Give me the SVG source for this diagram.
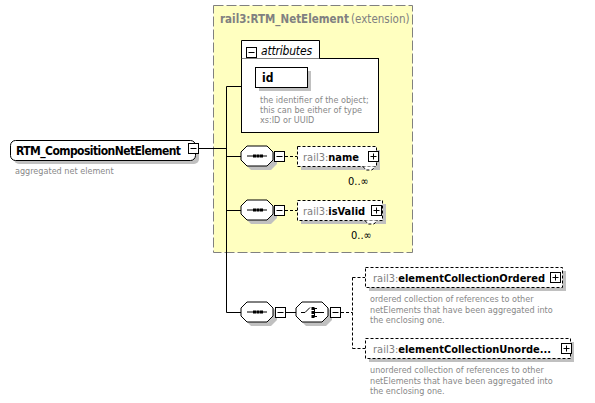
<svg xmlns="http://www.w3.org/2000/svg" width="595" height="403" viewBox="0 0 595 403">
<style>
.t{font-family:"DejaVu Sans Condensed","Liberation Sans",sans-serif}
.sh{fill:#c0c0c0}
.box{fill:#fff;stroke:#000;stroke-width:1}
.dbox{fill:#fff;stroke:#000;stroke-width:1;stroke-dasharray:3,2}
.ln{stroke:#000;stroke-width:1;fill:none}
.dl{stroke:#000;stroke-width:1;fill:none;stroke-dasharray:3,2}
.desc{font-size:9px;fill:#888}
.pre{fill:#808080}
.nm{font-weight:bold;fill:#000}
.occ{font-size:11px;fill:#000}
</style>
<defs>
<g id="seq">
<path d="M6,0 H26 L32,6 V14 L26,20 H6 L0,14 V6 Z" transform="translate(4,4)" class="sh"/>
<path d="M6,0 H26 L32,6 V14 L26,20 H6 L0,14 V6 Z" class="box"/>
<line x1="6" y1="10" x2="26" y2="10" class="ln"/>
<rect x="12" y="8.5" width="3" height="3" fill="#000"/>
<rect x="15.5" y="8.5" width="3" height="3" fill="#000"/>
<rect x="19" y="8.5" width="3" height="3" fill="#000"/>
</g>
<g id="minus">
<rect x="0.5" y="0.5" width="10" height="10" class="box"/>
<line x1="2.5" y1="5.5" x2="8.5" y2="5.5" class="ln"/>
</g>
<g id="plus">
<rect x="0.5" y="0.5" width="10" height="10" class="box"/>
<line x1="2.5" y1="5.5" x2="8.5" y2="5.5" class="ln"/>
<line x1="5.5" y1="2.5" x2="5.5" y2="8.5" class="ln"/>
</g>
</defs>

<g id="extension">
<rect x="213.5" y="5.5" width="199" height="247" fill="#ffffc0" stroke="#808080" stroke-dasharray="10,3"/>
<text x="220" y="23" class="t" font-size="11.5" fill="#808080" font-weight="bold">rail3:RTM_NetElement</text>
<text x="351" y="23" class="t" font-size="11.5" fill="#808080">(extension)</text>
</g>

<g id="connectors">
<line x1="199" y1="148.5" x2="226.5" y2="148.5" class="ln"/>
<line x1="226.5" y1="86.5" x2="226.5" y2="312.5" class="ln"/>
<line x1="226.5" y1="86.5" x2="241" y2="86.5" class="ln"/>
<line x1="226.5" y1="156.5" x2="241" y2="156.5" class="ln"/>
<line x1="226.5" y1="210.5" x2="241" y2="210.5" class="ln"/>
<line x1="226.5" y1="312.5" x2="241" y2="312.5" class="ln"/>
<line x1="274" y1="312.5" x2="276" y2="312.5" class="ln"/>
<line x1="286" y1="312.5" x2="296" y2="312.5" class="ln"/>
<line x1="329" y1="312.5" x2="330" y2="312.5" class="ln"/>
<line x1="285" y1="156.5" x2="297" y2="156.5" class="dl"/>
<line x1="285" y1="210.5" x2="297" y2="210.5" class="dl"/>
<line x1="341" y1="312.5" x2="352.5" y2="312.5" class="dl"/>
<line x1="352.5" y1="277.5" x2="352.5" y2="348.5" class="dl"/>
<line x1="352.5" y1="277.5" x2="365" y2="277.5" class="dl"/>
<line x1="352.5" y1="348.5" x2="365" y2="348.5" class="dl"/>
</g>

<g id="RTM_CompositionNetElement">
<rect x="14" y="144" width="185" height="20" rx="5" class="sh"/>
<rect x="10.5" y="140.5" width="185" height="20" rx="5" class="box"/>
<text x="16" y="155" class="t" font-size="12" font-weight="bold" textLength="165">RTM_CompositionNetElement</text>
<use href="#minus" x="188" y="143"/>
<text x="15" y="174" class="t desc">aggregated net element</text>
</g>

<g id="attributes">
<rect x="241.5" y="58.5" width="137" height="74" class="box"/>
<path d="M241.5,58.5 V40.5 H319.5 V58.5" class="box"/>
<use href="#minus" x="246" y="47"/>
<text x="261" y="55" class="t" font-size="12" font-style="italic" textLength="51">attributes</text>
<rect x="259" y="71" width="52" height="20" class="sh"/>
<rect x="255.5" y="67.5" width="52" height="20" class="box"/>
<text x="262" y="82" class="t" font-size="12" font-weight="bold">id</text>
<text class="t desc"><tspan x="260" y="103">the identifier of the object;</tspan><tspan x="260" y="113">this can be either of type</tspan><tspan x="260" y="123">xs:ID or UUID</tspan></text>
</g>

<g id="seq1">
<use href="#seq" x="241" y="146"/>
<use href="#minus" x="274" y="151"/>
</g>
<g id="name">
<rect x="301" y="150" width="79" height="20" class="sh"/>
<rect x="297.5" y="146.5" width="79" height="20" class="dbox"/>
<path d="M363,166.5 L366,170 H372 L375,166.5" class="dbox"/>
<text x="303" y="161" class="t" font-size="11"><tspan class="pre">rail3:</tspan><tspan class="nm">name</tspan></text>
<use href="#plus" x="368" y="151"/>
<text x="348" y="185" class="t occ">0..∞</text>
</g>

<g id="seq2">
<use href="#seq" x="241" y="200"/>
<use href="#minus" x="274" y="205"/>
</g>
<g id="isValid">
<rect x="301" y="204" width="85" height="20" class="sh"/>
<rect x="297.5" y="200.5" width="85" height="20" class="dbox"/>
<path d="M365,220.5 L368,224 H374 L377,220.5" class="dbox"/>
<text x="303" y="215" class="t" font-size="11"><tspan class="pre">rail3:</tspan><tspan class="nm">isValid</tspan></text>
<use href="#plus" x="371" y="205"/>
<text x="351" y="239" class="t occ">0..∞</text>
</g>

<g id="seq3">
<use href="#seq" x="241" y="302"/>
<use href="#minus" x="275" y="307"/>
</g>
<g id="choice">
<path d="M6,0 H26 L32,6 V14 L26,20 H6 L0,14 V6 Z" transform="translate(300,306)" class="sh"/>
<path d="M6,0 H26 L32,6 V14 L26,20 H6 L0,14 V6 Z" transform="translate(296,302)" class="box"/>
<path d="M301,312.5 H305 L310,307.5 M314.5,308 V317 M314.5,308.5 H317 M314.5,312.5 H319 M314.5,316.5 H317 M319,312.5 H324" class="ln"/>
<rect x="311.5" y="307" width="3" height="3" fill="#000"/>
<rect x="311.5" y="311" width="3" height="3" fill="#000"/>
<rect x="311.5" y="315" width="3" height="3" fill="#000"/>
<use href="#minus" x="330" y="307"/>
</g>

<g id="elementCollectionOrdered">
<rect x="369" y="271" width="197" height="20" class="sh"/>
<rect x="365.5" y="267.5" width="197" height="20" class="dbox"/>
<text x="373" y="282" class="t" font-size="11"><tspan class="pre">rail3:</tspan><tspan class="nm">elementCollectionOrdered</tspan></text>
<use href="#plus" x="550" y="272"/>
<text class="t desc"><tspan x="370" y="302">ordered collection of references to other</tspan><tspan x="370" y="312.5">netElements that have been aggregated into</tspan><tspan x="370" y="323">the enclosing one.</tspan></text>
</g>

<g id="elementCollectionUnordered">
<rect x="369" y="342" width="205" height="20" class="sh"/>
<rect x="365.5" y="338.5" width="205" height="20" class="dbox"/>
<text x="373" y="353" class="t" font-size="11"><tspan class="pre">rail3:</tspan><tspan class="nm">elementCollectionUnorde...</tspan></text>
<use href="#plus" x="561" y="343"/>
<text class="t desc"><tspan x="370" y="373">unordered collection of references to other</tspan><tspan x="370" y="383.5">netElements that have been aggregated into</tspan><tspan x="370" y="394">the enclosing one.</tspan></text>
</g>
</svg>
